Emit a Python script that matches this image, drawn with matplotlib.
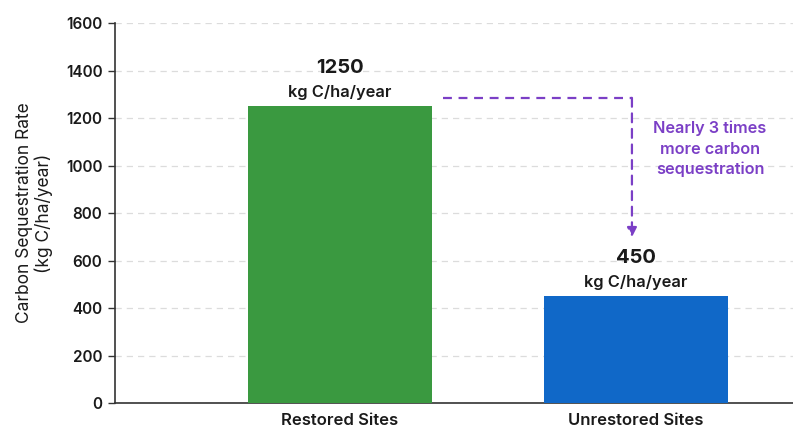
import matplotlib
matplotlib.use("Agg")
import matplotlib.pyplot as plt

# Data
categories = ["Restored Sites", "Unrestored Sites"]
rates = [1250, 450]
bar_colors = ["#3A9940", "#1068C8"]
unit = "kg C/ha/year"
y_ticks = [0, 200, 400, 600, 800, 1000, 1200, 1400, 1600]
note = "Nearly 3 times\nmore carbon\nsequestration"

plt.rcParams["font.family"] = ["Inter", "DejaVu Sans"]
purple = "#7B3FC6"
dark = "#1a1a1a"

fig = plt.figure(figsize=(7.93, 4.28), dpi=100)
ax = fig.add_axes([0.145, 0.0584, 0.855, 0.8878])

x = list(range(len(categories)))
ax.bar(x, rates, width=0.62, color=bar_colors, zorder=3)

ax.set_xlim(-0.76, 1.53)
ax.set_ylim(0, 1600)
ax.set_yticks(y_ticks)
ax.set_yticklabels([str(t) for t in y_ticks], fontsize=11, fontweight="semibold", color=dark)
ax.set_xticks(x)
ax.set_xticklabels(categories, fontsize=12, fontweight="semibold", color=dark)
ax.tick_params(axis="x", length=0, pad=7)
ax.tick_params(axis="y", length=5, width=1, pad=4, color="#333333")

for side in ("top", "right"):
    ax.spines[side].set_visible(False)
for side in ("left", "bottom"):
    ax.spines[side].set_color("#333333")
    ax.spines[side].set_linewidth(1.2)

ax.yaxis.grid(True, linestyle=(0, (5, 4)), color="#dcdcdc", linewidth=0.9, zorder=0)
ax.set_axisbelow(True)

ax.set_ylabel("Carbon Sequestration Rate\n(kg C/ha/year)", fontsize=12.5,
              color=dark, labelpad=9, linespacing=1.15)

# Value labels above each bar
for xi, v in zip(x, rates):
    ax.annotate(str(v), (xi, v), xytext=(0, 38), textcoords="offset pixels",
                ha="center", va="center", fontsize=14.5, fontweight="bold", color=dark)
    ax.annotate(unit, (xi, v), xytext=(0, 14), textcoords="offset pixels",
                ha="center", va="center", fontsize=11.8, fontweight="semibold", color=dark)

# Comparison connector: dashed line from the tall bar down to the short bar
line_y = 1285
corner_x = 0.986
ax.plot([0.348, corner_x], [line_y, line_y], color=purple, lw=1.6,
        linestyle=(0, (4, 3)), zorder=4)
ax.annotate("", xy=(corner_x, 698), xytext=(corner_x, line_y),
            arrowprops=dict(arrowstyle="-|>", color=purple, lw=1.6,
                            linestyle=(0, (4, 3)), mutation_scale=14,
                            shrinkA=0, shrinkB=0), zorder=4)
ax.text(1.25, 1069, note, ha="center", va="center", fontsize=11.7,
        fontweight="semibold", color=purple, linespacing=1.42)

fig.savefig("out.png", dpi=100, facecolor="white")
